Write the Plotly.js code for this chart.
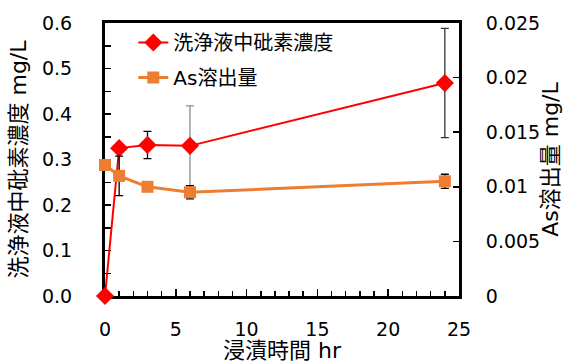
<!DOCTYPE html>
<html>
<head>
<meta charset="utf-8">
<script src="https://cdn.plot.ly/plotly-3.0.1.min.js"></script>
<style>html,body{margin:0;padding:0;background:#fff;}#chart{width:563px;height:363px;}</style>
</head>
<body>
<div id="chart"></div>
<script>
// ---- data ----
const hours = [0, 1, 3, 6, 24];
const arsenicConc = [0, 0.325, 0.332, 0.330, 0.468];      // 洗浄液中砒素濃度 mg/L
const arsenicConcErr = [0, 0, 0.03, 0.088, 0.12];
const arsenicConcErrColor = ['#000000', '#000000', '#000000', '#8c8c8c', '#333333'];
const asEluted = [0.0120, 0.0110, 0.0100, 0.0095, 0.0105]; // As溶出量 mg/L
const asElutedErr = [0, 0.0018, 0, 0.0006, 0.00065];
const seriesNames = ['洗浄液中砒素濃度', 'As溶出量'];
const xTitle = '浸漬時間 hr';
const y1Title = '洗浄液中砒素濃度 mg/L';
const y2Title = 'As溶出量 mg/L';

const FONT = 'DejaVu Sans, Noto Sans CJK JP, sans-serif';
const traces = [];

// error bars for concentration, per point
hours.forEach((h, i) => {
  if (arsenicConcErr[i] > 0) {
    traces.push({
      x: [h], y: [arsenicConc[i]], type: 'scatter', mode: 'markers',
      marker: {size: 1, opacity: 0}, showlegend: false, hoverinfo: 'skip', yaxis: 'y',
      error_y: {type: 'data', array: [arsenicConcErr[i]], visible: true,
                color: arsenicConcErrColor[i], thickness: 1.3, width: 4}
    });
  }
});
// error bars for As eluted
traces.push({
  x: hours, y: asEluted, type: 'scatter', mode: 'markers',
  marker: {size: 1, opacity: 0}, showlegend: false, hoverinfo: 'skip', yaxis: 'y2',
  error_y: {type: 'data', array: asElutedErr, visible: true, color: '#000000', thickness: 1.3, width: 4}
});

traces.push({
  x: hours, y: asEluted, name: seriesNames[1], type: 'scatter', mode: 'lines+markers',
  line: {color: '#ed7d31', width: 3}, marker: {symbol: 'square', size: 12, color: '#ed7d31'},
  cliponaxis: false, yaxis: 'y2', legendgroup: 'b', legendrank: 2
});
traces.push({
  x: hours, y: arsenicConc, name: seriesNames[0], type: 'scatter', mode: 'lines+markers',
  line: {color: '#ff0000', width: 2}, marker: {symbol: 'diamond', size: 14, color: '#ff0000'},
  cliponaxis: false, yaxis: 'y', legendgroup: 'a', legendrank: 1
});

const layout = {
  width: 563, height: 363,
  margin: {l: 105, r: 104, t: 23, b: 67, pad: 0},
  paper_bgcolor: '#ffffff', plot_bgcolor: 'rgba(0,0,0,0)',
  font: {family: FONT, size: 19, color: '#000000'},
  showlegend: true,
  legend: {x: 0.08, y: 1.0, xanchor: 'left', yanchor: 'top', bgcolor: 'rgba(0,0,0,0)',
           font: {family: FONT, size: 20}, traceorder: 'grouped', tracegroupgap: 6},
  xaxis: {
    range: [0, 25], dtick: 5, tick0: 0,
    ticks: 'inside', ticklen: 7, tickwidth: 1.5, tickcolor: '#000',
    minor: {dtick: 1, ticks: 'inside', ticklen: 5, tickwidth: 1.5, tickcolor: '#000'},
    showline: true, linewidth: 3, linecolor: '#000000', mirror: true, layer: 'below traces',
    showgrid: false, zeroline: false, ticklabelstandoff: 14,
    tickfont: {family: FONT, size: 19},
    title: {text: xTitle, font: {family: FONT, size: 22}, standoff: 6}
  },
  yaxis: {
    range: [0, 0.6], dtick: 0.1, tick0: 0, tickformat: '.1f',
    ticks: 'inside', ticklen: 6, tickwidth: 1.5, tickcolor: '#000',
    minor: {dtick: 0.05, ticks: 'inside', ticklen: 6, tickwidth: 1.5, tickcolor: '#000'},
    showline: true, linewidth: 3, linecolor: '#000000', layer: 'below traces',
    showgrid: false, zeroline: false, ticklabelstandoff: 26,
    tickfont: {family: FONT, size: 19},
    title: {text: y1Title, font: {family: FONT, size: 22}, standoff: 10}
  },
  yaxis2: {
    overlaying: 'y', side: 'right',
    range: [0, 0.025], dtick: 0.005, tick0: 0,
    ticks: 'inside', ticklen: 6, tickwidth: 1.5, tickcolor: '#000',
    showline: true, linewidth: 3, linecolor: '#000000', layer: 'below traces',
    showgrid: false, zeroline: false, ticklabelstandoff: 20,
    tickfont: {family: FONT, size: 19},
    title: {text: y2Title, font: {family: FONT, size: 22}, standoff: 0}
  }
};

Plotly.newPlot('chart', traces, layout, {staticPlot: true, displayModeBar: false});
</script>
</body>
</html>
